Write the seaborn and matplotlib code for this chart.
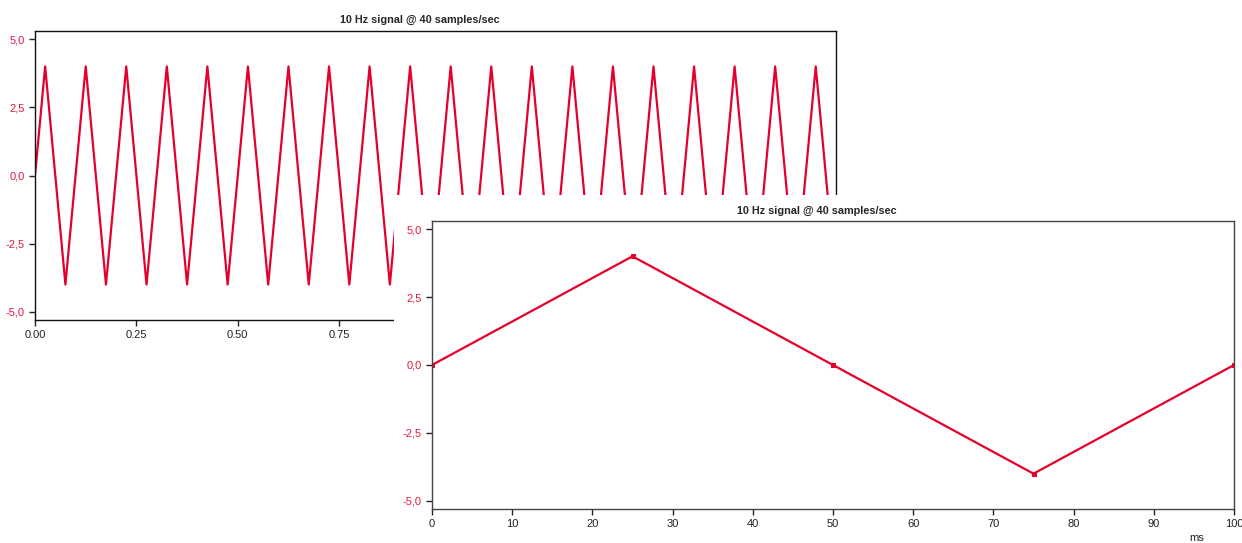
import numpy as np
import pandas as pd
import matplotlib
matplotlib.use("Agg")
import matplotlib.pyplot as plt
import seaborn as sns

# Sampled 10 Hz signal, 40 samples per second (amplitude 4)
sample_rate = 40
signal_values = [
    0, 4, 0, -4, 0, 4, 0, -4, 0, 4, 0, -4, 0, 4, 0, -4, 0, 4, 0, -4,
    0, 4, 0, -4, 0, 4, 0, -4, 0, 4, 0, -4, 0, 4, 0, -4, 0, 4, 0, -4,
    0, 4, 0, -4, 0, 4, 0, -4, 0, 4, 0, -4, 0, 4, 0, -4, 0, 4, 0, -4,
    0, 4, 0, -4, 0, 4, 0, -4, 0, 4, 0, -4, 0, 4, 0, -4, 0, 4, 0, -4,
]
sample_times = np.arange(len(signal_values)) / sample_rate

# One period of the same signal, in milliseconds
period_ms = [0, 25, 50, 75, 100]
period_values = [0, 4, 0, -4, 0]

y_ticks = [-5.0, -2.5, 0.0, 2.5, 5.0]
y_tick_labels = ["-5,0", "-2,5", "0,0", "2,5", "5,0"]
sec_ticks = [0.0, 0.25, 0.5, 0.75, 1.0, 1.25, 1.5, 1.75]
sec_tick_labels = ["0.00", "0.25", "0.50", "0.75", "1.00", "1.25", "1.50", "1.75"]
ms_ticks = [0, 10, 20, 30, 40, 50, 60, 70, 80, 90, 100]
title = "10 Hz signal @ 40 samples/sec"

sns.set_style("ticks")
plt.rcParams["font.family"] = ["Liberation Sans", "DejaVu Sans"]

RED = "#e4002b"
LABEL_RED = "#e8173f"

df_full = pd.DataFrame({"t": sample_times, "v": signal_values})
df_period = pd.DataFrame({"ms": period_ms, "v": period_values})

W, H = 1242, 543
fig = plt.figure(figsize=(W / 100, H / 100), dpi=100)
fig.patch.set_facecolor("white")


def style_axes(ax, spine_color):
    for s in ax.spines.values():
        s.set_visible(True)
        s.set_color(spine_color)
        s.set_linewidth(1.0)
    ax.set_facecolor("white")
    ax.tick_params(axis="both", direction="out", length=4.5, width=1,
                   color="#222222", labelsize=8, pad=3)
    ax.tick_params(axis="y", labelcolor=LABEL_RED)
    ax.tick_params(axis="x", labelcolor="#222222")
    ax.set_xlabel("")
    ax.set_ylabel("")


# Full two-second trace
ax1 = fig.add_axes([35 / W, 1 - 320 / H, (836 - 35) / W, (320 - 31) / H])
ax1.set_zorder(1)
sns.lineplot(data=df_full, x="t", y="v", ax=ax1, color=RED, linewidth=1.6)
ax1.set_xlim(0, 1.975)
ax1.set_ylim(-5.3, 5.3)
ax1.set_yticks(y_ticks, y_tick_labels)
ax1.set_xticks(sec_ticks, sec_tick_labels)
style_axes(ax1, "#111111")
ax1.set_title(title, fontsize=7.8, fontweight="bold", pad=6, x=0.481)

# White panel holding the zoomed view
panel = fig.add_axes([394 / W, 0, 1 - 394 / W, (H - 195) / H])
panel.set_zorder(2)
panel.set_facecolor("white")
panel.set_xticks([])
panel.set_yticks([])
for s in panel.spines.values():
    s.set_visible(False)

# One period in milliseconds
ax2 = fig.add_axes([432 / W, 1 - 509 / H, (1234 - 432) / W, (509 - 221) / H])
ax2.set_zorder(3)
sns.lineplot(data=df_period, x="ms", y="v", ax=ax2, color=RED, linewidth=1.6,
             marker="s", markersize=3, markeredgecolor=RED)
ax2.set_xlim(0, 100)
ax2.set_ylim(-5.3, 5.3)
ax2.set_yticks(y_ticks, y_tick_labels)
ax2.set_xticks(ms_ticks)
style_axes(ax2, "#444444")
ax2.set_title(title, fontsize=7.8, fontweight="bold", pad=5, x=0.48)
ax2.text(0.954, -0.1, "ms", transform=ax2.transAxes, ha="center", va="center",
         fontsize=8, color="#222222")

fig.savefig("out.png", dpi=100, facecolor="white")
